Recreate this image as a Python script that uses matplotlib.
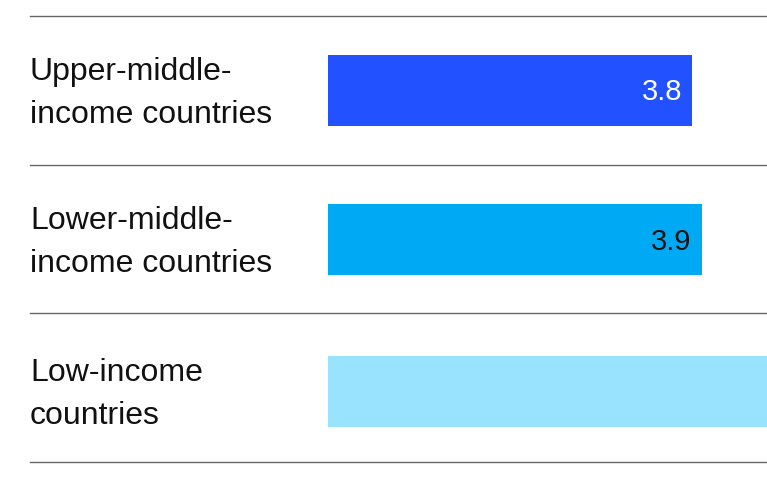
import matplotlib
matplotlib.use("Agg")
import matplotlib.pyplot as plt

categories = ["Upper-middle-\nincome countries", "Lower-middle-\nincome countries", "Low-income\ncountries"]
values = [3.8, 3.9, 5.5]
labels = ["3.8", "3.9", "5.5"]
colors = ["#2251ff", "#00a9f4", "#99e3ff"]
label_colors = ["white", "#111111", "#111111"]

plt.rcParams['font.family'] = ['Liberation Sans', 'DejaVu Sans']
W, H = 767, 480
fig = plt.figure(figsize=(W/100, H/100), dpi=100)
ax = fig.add_axes([0, 0, 1, 1])
ppu = 95.8
x0 = 328
ax.set_xlim(-x0/ppu, (W - x0)/ppu)
ax.set_ylim(H, 0)
ax.axis("off")

centers = [90.5, 239.5, 391.5]
ax.barh(centers, values, height=71, color=colors, left=0)
for c, v, lab, lc in zip(centers, values, labels, label_colors):
    if v * ppu + x0 <= W:
        ax.text(v - 10/ppu, c + 2, lab, ha="right", va="center", fontsize=21, color=lc)
for c, cat in zip(centers, categories):
    ax.text(-(x0 - 30)/ppu, c + 3, cat, ha="left", va="center", fontsize=23,
            color="#111111", linespacing=1.55)
for y in [16, 165, 313, 462]:
    ax.axhline(y, xmin=30/W, xmax=1, color="#666666", lw=1)

fig.savefig("out.png", dpi=100)
